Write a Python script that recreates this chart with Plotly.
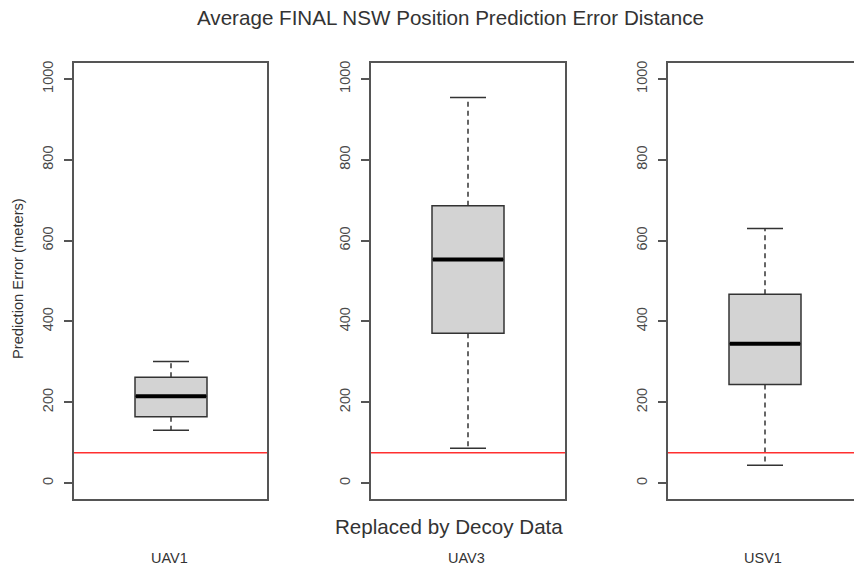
import plotly.graph_objects as go

# ---- data ----
categories = ["UAV1", "UAV3", "USV1"]
lower_whisker = [131, 86, 44]
q1_values = [164, 371, 244]
median_values = [215, 553, 345]
q3_values = [262, 686, 467]
upper_whisker = [301, 954, 630]
threshold = 75
y_tick_values = [0, 200, 400, 600, 800, 1000]
y_tick_labels = ["0", "200", "400", "600", "800", "1000"]

title_text = "Average FINAL NSW Position Prediction Error Distance"
x_label = "Replaced by Decoy Data"
y_label = "Prediction Error (meters)"

W, H = 854, 569
FONT = "Liberation Sans, Arial, sans-serif"
TXT = "#333333"
FRAME = "#555555"

# panel pixel extents (left, right) and visible x-ranges
panels_px = [(74, 267), (371, 565), (668, 854)]
panel_full_w = 194.0
box_w = 72 / panel_full_w
cap_w = box_w / 2

fig = go.Figure()

for i, cat in enumerate(categories):
    n = i + 1
    xa = "x" if n == 1 else f"x{n}"
    ya = "y" if n == 1 else f"y{n}"
    q1, med, q3 = q1_values[i], median_values[i], q3_values[i]
    lo, hi = lower_whisker[i], upper_whisker[i]

    # dashed whiskers
    fig.add_trace(go.Scatter(x=[0, 0, None, 0, 0], y=[q3, hi, None, q1, lo],
                             mode="lines", line=dict(color="#333333", width=1.5, dash="5px,4px"),
                             xaxis=xa, yaxis=ya, hoverinfo="skip", showlegend=False))
    # caps
    fig.add_trace(go.Scatter(x=[-cap_w / 2, cap_w / 2, None, -cap_w / 2, cap_w / 2],
                             y=[hi, hi, None, lo, lo],
                             mode="lines", line=dict(color="#333333", width=1.5),
                             xaxis=xa, yaxis=ya, hoverinfo="skip", showlegend=False))
    # box body
    fig.add_trace(go.Box(x=[0], q1=[q1], median=[med], q3=[q3],
                         lowerfence=[q1], upperfence=[q3], width=box_w,
                         whiskerwidth=0, fillcolor="#d3d3d3",
                         line=dict(color="#333333", width=1.5),
                         xaxis=xa, yaxis=ya, hoverinfo="skip", showlegend=False,
                         boxpoints=False))
    # thick median
    fig.add_trace(go.Scatter(x=[-box_w / 2 + 0.004, box_w / 2 - 0.004], y=[med, med],
                             mode="lines", line=dict(color="black", width=4),
                             xaxis=xa, yaxis=ya, hoverinfo="skip", showlegend=False))
    # red reference line
    fig.add_shape(type="line", xref=f"{xa} domain", yref=ya, x0=0, x1=1,
                  y0=threshold, y1=threshold, line=dict(color="#ff3030", width=1.5))

    left, right = panels_px[i]
    xr_end = -0.5 + (right - left) / panel_full_w
    axis_x = dict(domain=[left / W, right / W], range=[-0.5, xr_end],
                  showticklabels=False, ticks="", showgrid=False, zeroline=False,
                  showline=True, linecolor=FRAME, linewidth=1.5, mirror=True,
                  fixedrange=True)
    axis_y = dict(domain=[1 - 499 / H, 1 - 61 / H], range=[-40, 1040],
                  tickvals=y_tick_values, ticktext=y_tick_labels, tickangle=-90,
                  ticks="outside", ticklen=8, tickcolor=FRAME, tickwidth=1.5,
                  ticklabelstandoff=5,
                  tickfont=dict(family=FONT, size=14.5, color="#4a4a4a"),
                  showgrid=False, zeroline=False,
                  showline=True, linecolor=FRAME, linewidth=1.5,
                  mirror=(n != 3), anchor=xa, fixedrange=True)
    if n == 1:
        fig.update_layout(xaxis=dict(axis_x, anchor="y"), yaxis=axis_y)
    else:
        fig.update_layout(**{f"xaxis{n}": dict(axis_x, anchor=ya), f"yaxis{n}": axis_y})

annotations = [
    dict(text=title_text, x=450 / W, y=1 - 15.5 / H, font=dict(size=20.6, color=TXT, family=FONT)),
    dict(text=x_label, x=449 / W, y=1 - 526 / H, font=dict(size=20.6, color=TXT, family=FONT)),
    dict(text=y_label, x=18 / W, y=1 - 278 / H, textangle=-90, font=dict(size=14.7, color=TXT, family=FONT)),
]
label_x = [169, 466, 763]
for cat, lx in zip(categories, label_x):
    annotations.append(dict(text=cat, x=lx / W, y=1 - 557.5 / H, font=dict(size=14.5, color=TXT, family=FONT)))
for a in annotations:
    a.update(xref="paper", yref="paper", showarrow=False, xanchor="center", yanchor="middle")

fig.update_layout(width=W, height=H, margin=dict(l=0, r=0, t=0, b=0),
                  paper_bgcolor="white", plot_bgcolor="white",
                  annotations=annotations, showlegend=False)

fig.write_html("out.html", config={"displayModeBar": False},
               post_script="document.body.style.margin='0px';document.body.style.overflow='hidden';")
